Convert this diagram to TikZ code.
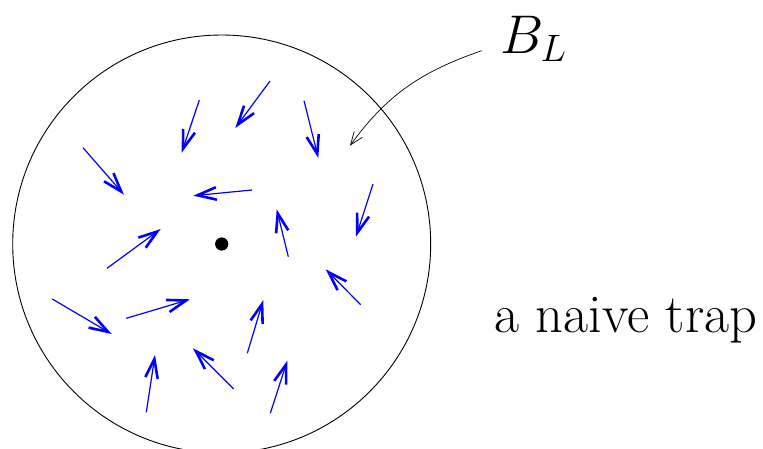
\documentclass[tikz,border=0pt]{standalone}
\usepackage{fix-cm}
\usetikzlibrary{arrows.meta}
\begin{document}
\begin{tikzpicture}[x=1pt,y=-1pt,
  flow/.style={blue, line width=1.2pt, -{Straight Barb[length=19pt,width=12.5pt,line width=2.6pt]}},
  pointer/.style={black, line width=0.7pt, -{Straight Barb[length=13pt,width=10pt]}},
  bigtext/.style={font=\fontsize{54.5}{62}\selectfont, inner sep=0pt}]
\useasboundingbox (0,0) rectangle (763,448);
\draw[line width=0.9pt] (221.7,244) circle[radius=209];
\fill (221.7,244) circle[radius=6.6];
% flow arrows
\draw[flow] (83,147.7) -- (124,194.7);
\draw[flow] (199.3,100) -- (181.7,152.7);
\draw[flow] (270,81) -- (235.3,128);
\draw[flow] (304,100.7) -- (318.3,158);
\draw[flow] (252,190) -- (193.3,195.7);
\draw[flow] (373,184) -- (356,236.7);
\draw[flow] (107,268.3) -- (160.7,229);
\draw[flow] (288.3,256.7) -- (276.7,209.3);
\draw[flow] (360.7,304.7) -- (325.7,269.3);
\draw[flow] (52.3,299) -- (111.7,334);
\draw[flow] (126.3,318.3) -- (190,299.3);
\draw[flow] (247.3,353.3) -- (263.3,300);
\draw[flow] (146.3,412.3) -- (155,355);
\draw[flow] (233.7,389) -- (193,348.3);
\draw[flow] (270.3,413.3) -- (287.3,360.7);
% labels
\node[bigtext, anchor=base west] (BL) at (500,53) {$B_L$};
\node[bigtext, anchor=base west] (trap) at (494,332) {a naive trap};
\coordinate (tip) at (350,145.7);
\draw[pointer] (481.7,50.7) to[out=199, in=54] (tip);
\end{tikzpicture}
\end{document}
